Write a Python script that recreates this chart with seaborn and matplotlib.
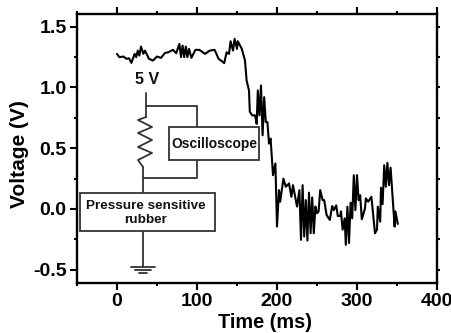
import numpy as np
import pandas as pd
import matplotlib
matplotlib.use("Agg")
import matplotlib.pyplot as plt
from matplotlib.patches import Rectangle
from matplotlib.transforms import Affine2D
from matplotlib.ticker import MultipleLocator
import seaborn as sns

time_ms = [0,3,8,12,15,18,22,24,26,28,30,33,35,40,45,50,55,60,64,70,74,78,80,82,84,86,88,90,93,98,
           103,110,116,122,127,131,134,137,140,142,145,147,150,151,156,160,162,165,166,169,172.5,174.6,
           176,178,180,182,184,186,188,190,192,195,198,200,202.5,204,208,211,215,218,220,225,228,230,
           232,234,236,238,240,242,244,246,248,250,252,254,257,259,262,266,269,271,274,276,279,280,282,
           284.6,286,288,290,292,294,296,298,300,302,304,306,310,311,314,318,322.5,325,326,329,330,332,
           334,336,338,340,342,347,348,351]
voltage = [1.276,1.249,1.254,1.235,1.24,1.202,1.276,1.249,1.303,1.262,1.336,1.276,1.303,1.235,1.221,
           1.254,1.243,1.284,1.289,1.309,1.281,1.358,1.249,1.344,1.249,1.336,1.249,1.317,1.243,1.309,
           1.309,1.276,1.303,1.309,1.235,1.216,1.2,1.289,1.276,1.38,1.303,1.4,1.317,1.38,1.317,1.221,
           1.057,0.975,0.8,0.77,0.77,0.70,
           0.975,0.77,1.016,0.606,0.92,0.715,0.715,0.538,0.579,0.278,0.374,-0.145,0.155,0.06,0.25,0.183,
           0.21,0.1,0.196,0.02,0.155,-0.254,
           0.196,-0.227,0.073,-0.26,0.134,-0.2,0.095,-0.2,0.02,-0.036,-0.02,0.155,0.073,0.073,-0.05,-0.09,
           0.024,-0.01,0.03,-0.058,-0.058,-0.02,-0.17,
           -0.077,-0.295,0.019,-0.28,0.052,-0.077,0.278,-0.01,0.278,0.073,0.114,-0.085,0.005,0.087,0.06,
           0.1,-0.2,-0.17,0.019,-0.104,0.175,0.04,
           0.36,0.183,0.38,0.196,0.34,-0.145,-0.02,-0.123]
x_ticks = [0, 100, 200, 300, 400]
y_ticks = [-0.5, 0.0, 0.5, 1.0, 1.5]

sns.set_theme(style="ticks")
plt.rcParams["font.family"] = ["Liberation Sans", "DejaVu Sans"]
plt.rcParams["font.weight"] = "bold"

W, H = 452, 333
fig = plt.figure(figsize=(W/100, H/100), dpi=100, facecolor="white")
ax = fig.add_axes([77/W, (H-283)/H, 360/W, 269/H])

df = pd.DataFrame({"t": time_ms, "v": voltage})
sns.lineplot(data=df, x="t", y="v", ax=ax, color="black", lw=1.5, sort=False,
             errorbar=None, estimator=None)

ax.set_xlim(-50, 400)
ax.set_ylim(-0.609, 1.604)
ax.set_xticks(x_ticks)
ax.set_yticks(y_ticks)
ax.set_yticklabels([f"{v:.1f}" for v in y_ticks])
ax.xaxis.set_minor_locator(MultipleLocator(50))
ax.yaxis.set_minor_locator(MultipleLocator(0.25))
ax.set_xlabel("Time (ms)", fontsize=14.3, fontweight="bold", labelpad=1.5, color="black", x=0.522)
ax.set_ylabel("Voltage (V)", fontsize=15, fontweight="bold", labelpad=3, color="black", y=0.48)
ax.tick_params(axis="both", which="major", direction="out", length=5, width=1.5,
               labelsize=14, pad=2.5, top=True, right=True, color="black", labelcolor="black")
ax.tick_params(axis="both", which="minor", direction="out", length=2.5, width=1.5,
               top=True, right=True, color="black")
ax.tick_params(axis="y", which="both", right=True)
for tk in ax.yaxis.get_major_ticks():
    tk.tick2line.set_markersize(2)
for tk in ax.yaxis.get_minor_ticks():
    tk.tick2line.set_markersize(2)
for s in ax.spines.values():
    s.set_visible(True)
    s.set_linewidth(1.7)
    s.set_color("black")

# Circuit inset, placed in image pixels
px = Affine2D().scale(1, -1).translate(0, H)
dark = "#333333"
def wire(xs, ys, lw=1.3):
    ax.add_line(plt.Line2D(xs, ys, color=dark, lw=lw, transform=px, clip_on=False, zorder=3))
def box(x0, y0, x1, y1):
    ax.add_patch(Rectangle((x0, y0), x1-x0, y1-y0, fc="white", ec=dark, lw=1.3,
                           transform=px, zorder=4))
def label(x, y, s, size):
    ax.text(x, y, s, transform=px, ha="center", va="center", fontsize=size,
            fontweight="bold", color="#111111", zorder=5, linespacing=1.3)

wire([146, 146], [93, 117])
wire([146, 197, 197], [106, 106, 127])
wire([197, 197, 143], [160, 178, 178])
wire([146, 138, 152, 138, 152, 138, 152, 138, 143],
     [117, 120, 127, 133, 140, 147, 153, 160, 167])
wire([143, 143], [167, 193])
wire([143, 143], [231, 267])
wire([131, 155], [267, 267])
wire([135, 151], [270, 270])
wire([139, 147], [273, 273])
box(169, 127, 259, 160)
box(80, 193, 215, 231)
label(147, 79, "5 V", 11.5)
label(214, 144, "Oscilloscope", 9.9)
label(146, 213, "Pressure sensitive\nrubber", 9.7)

fig.savefig("out.png", dpi=100, facecolor="white")
